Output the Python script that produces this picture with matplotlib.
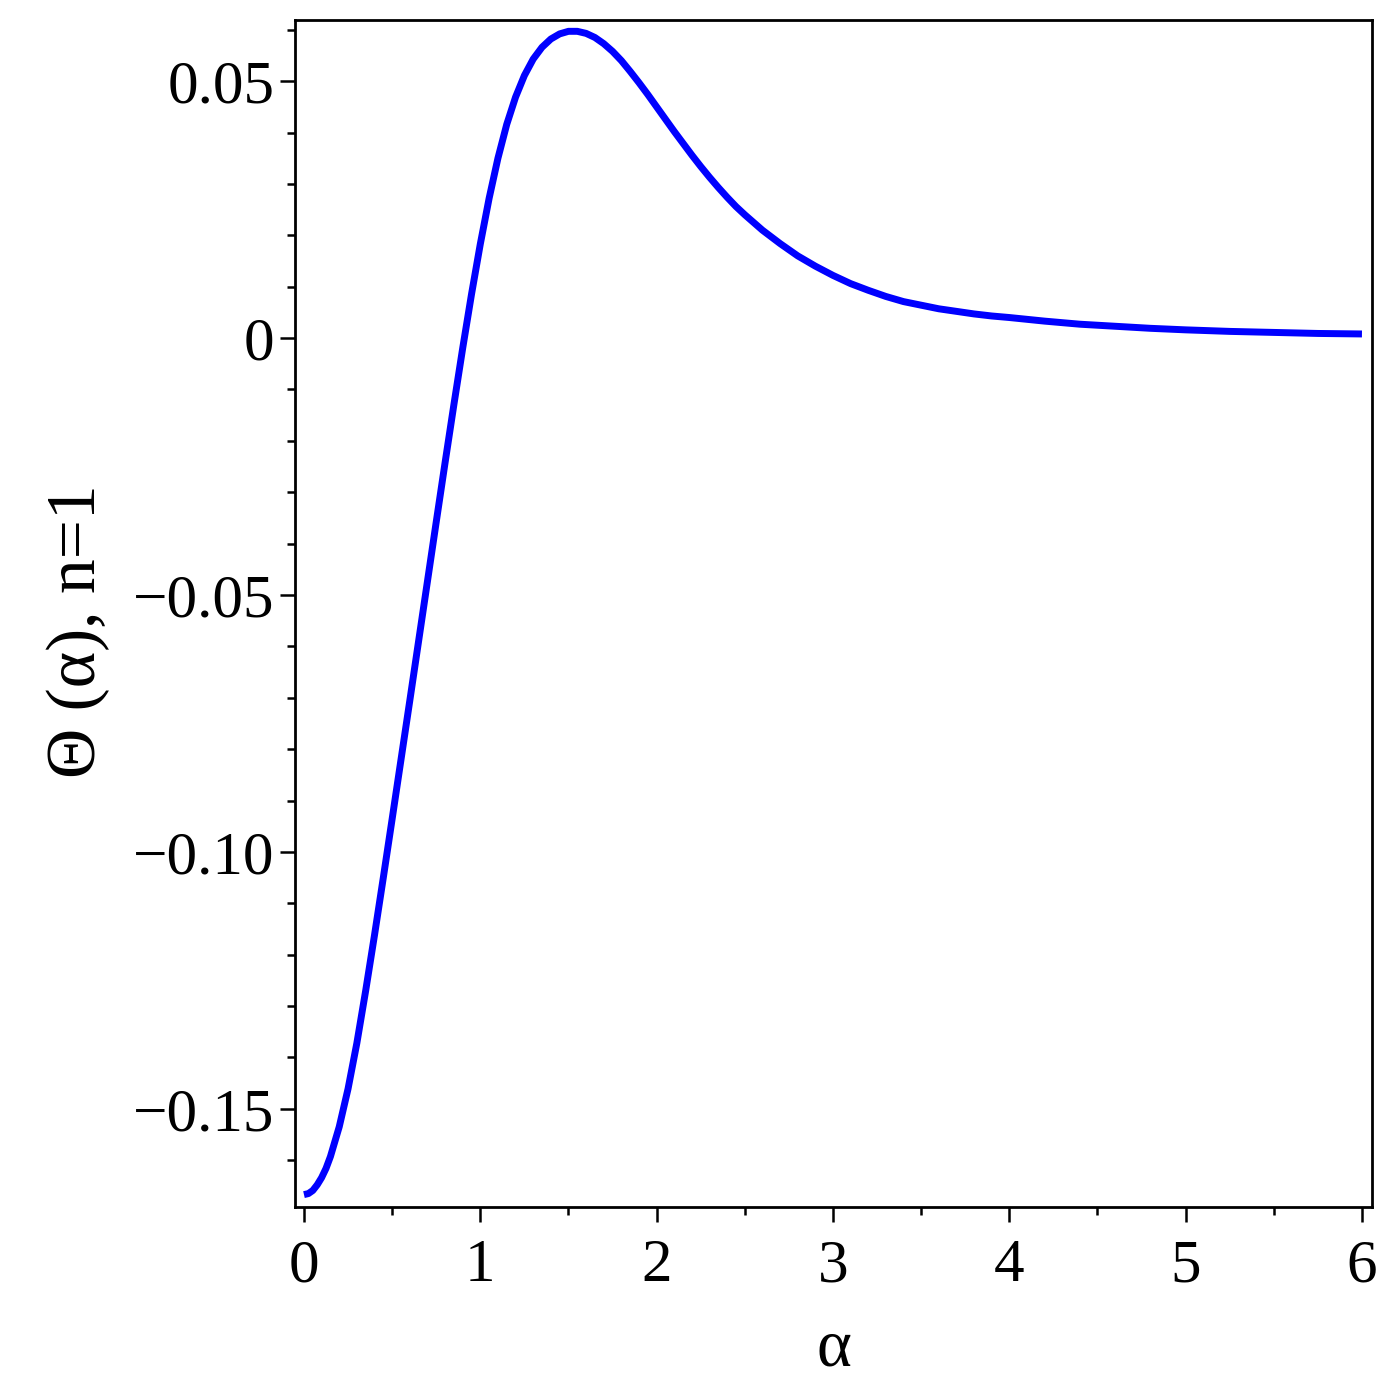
import matplotlib
matplotlib.use("Agg")
import matplotlib.pyplot as plt
from matplotlib.ticker import MultipleLocator, FixedLocator, FixedFormatter

# ---- data ----
alpha = [0.00, 0.025, 0.05, 0.075, 0.10, 0.125, 0.15, 0.20, 0.25, 0.30, 0.35, 0.40, 0.45,
         0.50, 0.55, 0.60, 0.65, 0.70, 0.75, 0.80, 0.85, 0.90, 0.95,
         1.00, 1.05, 1.10, 1.15, 1.20, 1.25, 1.30, 1.35, 1.40, 1.45,
         1.50, 1.55, 1.60, 1.65, 1.70, 1.75, 1.80, 1.85, 1.90, 1.95,
         2.00, 2.05, 2.10, 2.15, 2.20, 2.25, 2.30, 2.35, 2.40, 2.45,
         2.50, 2.60, 2.70, 2.80, 2.90, 3.00, 3.10, 3.20, 3.30, 3.40,
         3.50, 3.60, 3.70, 3.80, 3.90, 4.00, 4.20, 4.40, 4.60, 4.80,
         5.00, 5.25, 5.50, 5.75, 6.00]
theta = [-0.1667, -0.1665, -0.1659, -0.1648, -0.1634, -0.1616, -0.1593, -0.1535, -0.1461, -0.1372, -0.1270, -0.1162, -0.1050,
         -0.0936, -0.0821, -0.0706, -0.0590, -0.0474, -0.0358, -0.0243, -0.0130, -0.0020, 0.0085,
         0.0183, 0.0272, 0.0350, 0.0416, 0.0469, 0.0511, 0.0543, 0.0566, 0.0582, 0.0592,
         0.0597, 0.0597, 0.0593, 0.0585, 0.0573, 0.0558, 0.0540, 0.0519, 0.0497, 0.0474,
         0.0450, 0.0426, 0.0402, 0.0379, 0.0356, 0.0334, 0.0313, 0.0293, 0.0274, 0.0256,
         0.0240, 0.0210, 0.0184, 0.0160, 0.0140, 0.0122, 0.0106, 0.0093, 0.0081, 0.0071,
         0.0064, 0.0057, 0.0052, 0.0047, 0.0043, 0.0040, 0.0033, 0.0027, 0.0023, 0.0019,
         0.0016, 0.0013, 0.0011, 0.0009, 0.0008]

x_ticks = [0, 1, 2, 3, 4, 5, 6]
x_tick_labels = ["0", "1", "2", "3", "4", "5", "6"]
y_ticks = [0.05, 0.0, -0.05, -0.10, -0.15]
y_tick_labels = ["0.05", "0", "\u22120.05", "\u22120.10", "\u22120.15"]
x_label = "\u03b1"
y_label = "\u0398 (\u03b1), n=1"

# ---- figure ----
plt.rcParams["font.family"] = ["Liberation Serif", "DejaVu Serif"]
plt.rcParams["axes.unicode_minus"] = True

fig = plt.figure(figsize=(14, 14), dpi=100)
ax = fig.add_axes([0.2107, 0.1379, 0.7693, 0.8478])

ax.plot(alpha, theta, color="#0000ff", linewidth=5.0, solid_capstyle="butt",
        solid_joinstyle="round")

ax.set_xlim(-0.051, 6.057)
ax.set_ylim(-0.1691, 0.0619)

ax.xaxis.set_major_locator(FixedLocator(x_ticks))
ax.xaxis.set_major_formatter(FixedFormatter(x_tick_labels))
ax.xaxis.set_minor_locator(MultipleLocator(0.5))
ax.yaxis.set_major_locator(FixedLocator(y_ticks))
ax.yaxis.set_major_formatter(FixedFormatter(y_tick_labels))
ax.yaxis.set_minor_locator(MultipleLocator(0.01))

for s in ax.spines.values():
    s.set_linewidth(2.0)
    s.set_color("black")

ax.tick_params(which="major", direction="out", length=11, width=1.8,
               labelsize=44, color="black")
ax.tick_params(which="minor", direction="out", length=6, width=1.8, color="black")
ax.tick_params(axis="x", which="major", pad=12)
ax.tick_params(axis="y", which="major", pad=4)
ax.tick_params(top=False, right=False, which="both")

ax.set_xlabel(x_label, fontsize=48)
ax.set_ylabel(y_label, fontsize=50)
ax.xaxis.set_label_coords(0.5, -0.094)
ax.yaxis.set_label_coords(-0.172, 0.485)

fig.savefig("out.png", dpi=100, facecolor="white")
